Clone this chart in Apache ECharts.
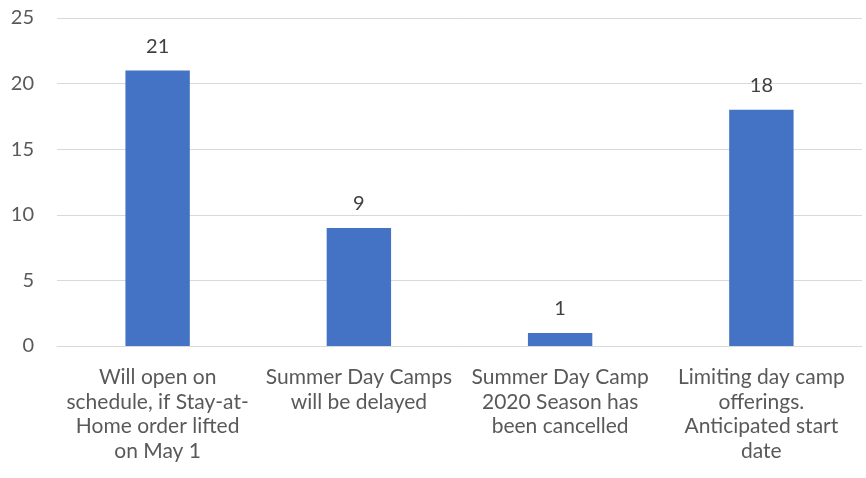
<!DOCTYPE html>
<html>
<head>
<meta charset="utf-8">
<script src="https://cdn.jsdelivr.net/npm/echarts@6/dist/echarts.min.js"></script>
<style>
  html, body { margin: 0; padding: 0; background: #fff; }
  #chart { width: 866px; height: 478px; }
</style>
</head>
<body>
<div id="chart"></div>
<script>
const categories = [
    "Will open on\nschedule, if Stay-at-\nHome order lifted\non May 1",
    "Summer Day Camps\nwill be delayed",
    "Summer Day Camp\n2020 Season has\nbeen cancelled",
    "Limiting day camp\nofferings.\nAnticipated start\ndate",
];
const counts = [21, 9, 1, 18];
const yTicks = { min: 0, max: 25, interval: 5 };

const chart = echarts.init(document.getElementById("chart"));

const option = {
    animation: false,
    textStyle: { fontFamily: "Lato", color: "#595959" },
    grid: { left: 57, right: 4, top: 18, bottom: 132 },
    xAxis: {
        type: "category",
        data: categories,
        axisLine: { lineStyle: { color: "#d9d9d9", width: 1 } },
        axisTick: { show: false },
        axisLabel: {
            interval: 0,
            color: "#595959",
            fontSize: 21,
            lineHeight: 24.5,
            margin: 19,
        },
    },
    yAxis: {
        type: "value",
        min: yTicks.min,
        max: yTicks.max,
        interval: yTicks.interval,
        axisLine: { show: false },
        axisTick: { show: false },
        splitLine: { lineStyle: { color: "#d9d9d9", width: 1 } },
        axisLabel: { color: "#595959", fontSize: 20, margin: 23 },
    },
    series: [
        {
            type: "bar",
            data: counts,
            barWidth: "32%",
            itemStyle: { color: "#4472c4" },
            label: {
                show: true,
                position: "top",
                distance: 14,
                color: "#404040",
                fontSize: 20,
            },
        },
    ],
};

chart.setOption(option);
</script>
</body>
</html>
